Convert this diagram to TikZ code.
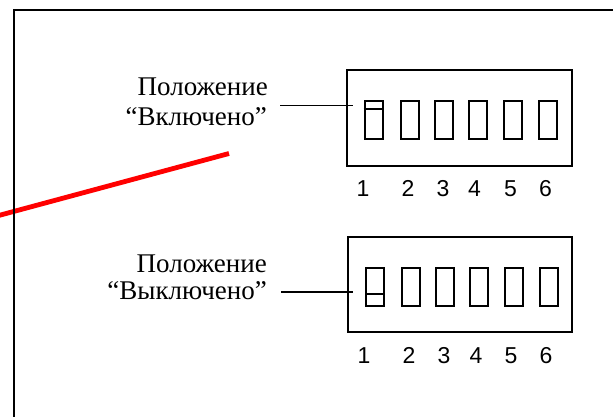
\documentclass[tikz,border=0pt]{standalone}
\usepackage{fontspec}
\setmainfont{Liberation Serif}
\newfontfamily\digitfont{Liberation Sans}
\begin{document}
\begin{tikzpicture}[x=1pt,y=-1pt,
  lbl/.style={anchor=base east,inner sep=0pt,font=\fontsize{27}{30}\selectfont},
  dig/.style={anchor=base,inner sep=0pt,font=\digitfont\fontsize{23}{24}\selectfont},
  dipbox/.style={draw,line width=2pt,inner sep=0pt},
  sw/.style={draw,line width=2pt,inner sep=0pt,minimum width=18pt,minimum height=38pt},
  leader/.style={line width=1.6pt},
  redline/.style={draw=red,line width=4.8pt}]
\useasboundingbox (0,0) rectangle (613,417);
\clip (0,0) rectangle (613,417);
% red line
\coordinate (r1) at (-5,216.5);
\coordinate (r2) at (229,153.5);
\draw[redline] (r1) -- (r2);
% frame
\coordinate (f1) at (13.5,425);
\coordinate (f2) at (13.5,10.5);
\coordinate (f3) at (620,10.5);
\draw[line width=2pt] (f1) -- (f2) -- (f3);
% top DIP
\node[dipbox,minimum width=225pt,minimum height=96pt] (topbox) at (459.5,118) {};
\foreach \i/\x in {1/373.5,2/409.5,3/444,4/477.5,5/512.5,6/547.5}{
  \node[sw] (ts\i) at (\x,120) {};
}
\coordinate (tsl) at ([yshift=-9.5pt]ts1.north west);
\coordinate (tsr) at ([yshift=-9.5pt]ts1.north east);
\draw[line width=2pt] (tsl) -- (tsr);
\foreach \i/\x in {1/363,2/408,3/443,4/474.5,5/510.5,6/545.5}{
  \node[dig] (td\i) at (\x,196.2) {\i};
}
% bottom DIP
\node[dipbox,minimum width=224pt,minimum height=95pt] (botbox) at (460,284.5) {};
\foreach \i/\x in {1/375,2/410.5,3/445,4/478.5,5/513.5,6/548.5}{
  \node[sw] (bs\i) at (\x,287) {};
}
\coordinate (bsl) at ([yshift=13pt]bs1.south west);
\coordinate (bsr) at ([yshift=13pt]bs1.south east);
\draw[line width=2.8pt] (bsl) -- (bsr);
\foreach \i/\x in {1/364,2/409,3/444,4/476,5/511,6/546}{
  \node[dig] (bd\i) at (\x,363.7) {\i};
}
% labels
\node[lbl] (t1) at (268,96) {Положение};
\node[lbl] (t2) at (267,125.5) {“Включено”};
\node[lbl] (b1) at (267,272) {Положение};
\node[lbl] (b2) at (267,299) {“Выключено”};
% leaders
\coordinate (tl1) at (280,105.7);
\coordinate (tl2) at (353,105.7);
\draw[leader] (tl1) -- (tl2);
\coordinate (bl1) at (281,292);
\coordinate (bl2) at (353,292);
\draw[leader] (bl1) -- (bl2);
\end{tikzpicture}
\end{document}
